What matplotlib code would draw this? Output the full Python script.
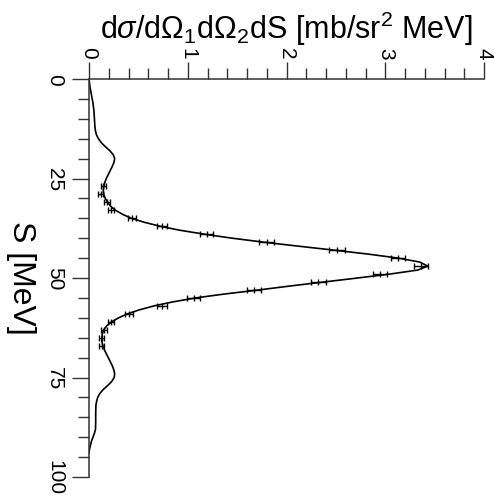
import matplotlib
matplotlib.use("Agg")
import matplotlib.pyplot as plt
from matplotlib.ticker import MultipleLocator

plt.rcParams['font.family'] = ['Liberation Sans', 'DejaVu Sans']
plt.rcParams['mathtext.fontset'] = 'custom'
plt.rcParams['mathtext.rm'] = 'Liberation Sans'
plt.rcParams['mathtext.it'] = 'Liberation Sans:italic'

# Measured data: S [MeV] and cross section [mb/sr^2 MeV]
data_S = [27, 29, 31, 33, 35, 37, 39, 41, 43, 45, 47, 49, 51, 53, 55, 57, 59, 61, 63, 65, 67]
data_sigma = [0.145, 0.118, 0.182, 0.226, 0.435, 0.739, 1.19, 1.80, 2.51, 3.13, 3.36,
              2.95, 2.32, 1.67, 1.06, 0.74, 0.405, 0.22, 0.152, 0.13, 0.13]
data_err = [0.025, 0.025, 0.028, 0.03, 0.04, 0.05, 0.065, 0.074, 0.082, 0.07, 0.068,
            0.07, 0.075, 0.07, 0.065, 0.05, 0.04, 0.03, 0.028, 0.025, 0.025]

# Theory curve
curve_S = [0, 2, 4, 6, 8, 10, 12, 13, 14, 15, 16, 17, 18, 19, 20, 21, 22, 23, 24, 25, 26, 27,
           28, 29, 30, 31, 32, 33, 34, 35, 36, 37, 38, 39, 40, 41, 42, 43, 44, 45, 46, 47,
           48, 49, 50, 51, 52, 53, 54, 55, 56, 57, 58, 59, 60, 61, 62, 63, 64, 65, 66, 67,
           68, 69, 70, 71, 72, 73, 74, 75, 76, 77, 78, 79, 80, 81, 82, 84, 86, 88, 89, 90,
           91, 92, 93, 94]
curve_sigma = [0.0, 0.01, 0.025, 0.04, 0.05, 0.055, 0.06, 0.065, 0.075, 0.095, 0.125, 0.165,
               0.21, 0.245, 0.26, 0.252, 0.235, 0.215, 0.195, 0.175, 0.16, 0.15,
               0.145, 0.15, 0.165, 0.19, 0.22, 0.27, 0.34, 0.43, 0.56, 0.72, 0.92, 1.17,
               1.45, 1.77, 2.12, 2.48, 2.83, 3.13, 3.35, 3.43,
               3.33, 3.05, 2.72, 2.38, 2.04, 1.72, 1.38, 1.08, 0.85, 0.66, 0.51, 0.39,
               0.3, 0.23, 0.18, 0.15, 0.135, 0.13, 0.13, 0.14,
               0.155, 0.175, 0.195, 0.215, 0.235, 0.25, 0.26, 0.255, 0.23, 0.19, 0.145,
               0.11, 0.088, 0.077, 0.07, 0.068, 0.068, 0.066, 0.055, 0.04,
               0.025, 0.015, 0.005, 0.0]

W, H = 494, 502
fig = plt.figure(figsize=(W / 100, H / 100), dpi=100)
ax = fig.add_axes([89 / W, (H - 478) / H, (484 - 89) / W, (478 - 80) / H])

ax.plot(curve_sigma, curve_S, color='black', lw=1.2)
ax.errorbar(data_sigma, data_S, xerr=data_err, fmt='|', ms=5, mew=1,
            color='black', ecolor='black', elinewidth=1, capsize=2.5, capthick=1)

ax.set_xlim(0, 4)
ax.set_ylim(100, 0)

for s in ['right', 'bottom']:
    ax.spines[s].set_visible(False)
for s in ['left', 'top']:
    ax.spines[s].set_color('#333333')
    ax.spines[s].set_linewidth(1.1)

ax.xaxis.set_ticks_position('top')
ax.xaxis.set_major_locator(MultipleLocator(1))
ax.xaxis.set_minor_locator(MultipleLocator(0.2))
ax.yaxis.set_major_locator(MultipleLocator(25))
ax.yaxis.set_minor_locator(MultipleLocator(5))

ax.tick_params(axis='both', which='major', length=12, width=1, color='#333333',
               direction='out', labelsize=15)
ax.tick_params(axis='both', which='minor', length=8, width=1, color='#333333',
               direction='out')
ax.tick_params(axis='x', which='major', pad=3, labelrotation=-90)
ax.tick_params(axis='y', which='major', pad=6, labelrotation=-90)
for lab in ax.get_xticklabels():
    lab.set_va('bottom')
    lab.set_ha('center')
for lab in ax.get_yticklabels():
    lab.set_va('center')

fig.text(286.5 / W, 1 - 29 / H,
         r'd$\sigma$/d$\Omega_1$d$\Omega_2$dS [mb/sr$^2$ MeV]',
         ha='center', va='center', fontsize=22)
fig.text(21 / W, 1 - 278 / H, 'S [MeV]', rotation=-90, ha='center', va='center',
         fontsize=23)

fig.savefig('out.png', dpi=100)
